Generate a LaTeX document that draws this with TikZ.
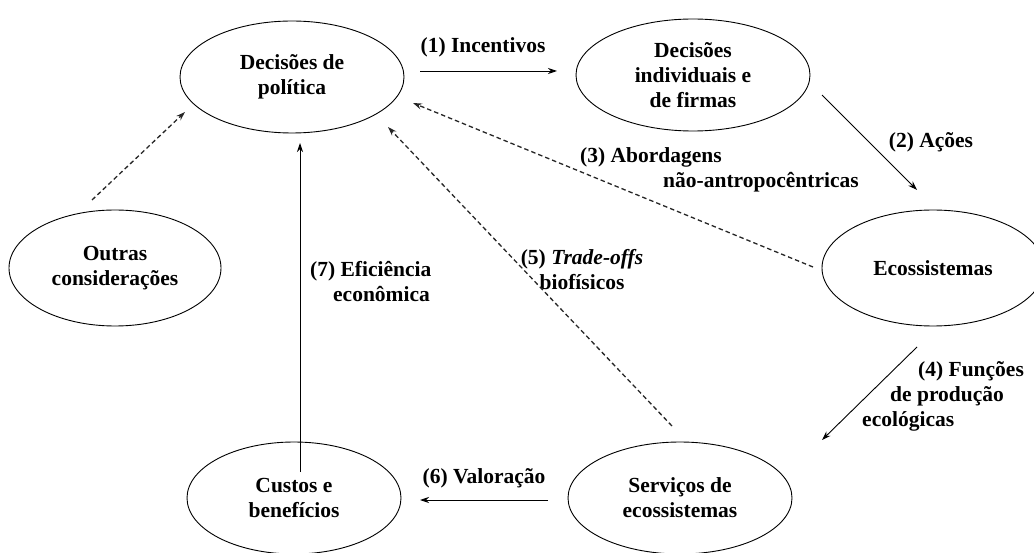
\documentclass[tikz,border=0pt]{standalone}
\usepackage{fontspec}
\setmainfont{Liberation Serif}
\usetikzlibrary{shapes.geometric,arrows.meta}
\begin{document}
\begin{tikzpicture}[x=1pt,y=-1pt,
  every node/.style={font=\fontsize{21.5}{25}\selectfont\bfseries},
  ell/.style={draw,ellipse,line width=0.9pt,inner sep=0pt,align=center},
  lbl/.style={inner sep=0pt},
  arr/.style={line width=0.9pt,-{Stealth[length=9pt,width=6pt]}},
  darr/.style={line width=1.3pt,black!85,dash pattern=on 4.5pt off 3pt,-{Stealth[length=9pt,width=6pt]}}]
\useasboundingbox (0,0) rectangle (1034,553);
% nodes
\node[ell,minimum width=224pt,minimum height=112pt] (pol) at (292,77) {Decisões de\\política};
\node[ell,minimum width=234pt,minimum height=112pt] (ind) at (693,75) {Decisões\\individuais e\\de firmas};
\node[ell,minimum width=222pt,minimum height=116pt] (eco) at (933,268) {Ecossistemas};
\node[ell,minimum width=212pt,minimum height=116pt] (out) at (115,268) {Outras\\considerações};
\node[ell,minimum width=214pt,minimum height=112pt] (cus) at (294,498) {Custos e\\benefícios};
\node[ell,minimum width=224pt,minimum height=112pt] (ser) at (680,498) {Serviços de\\ecossistemas};
% labels
\node[lbl] (l1) at (483,47) {(1) Incentivos};
\node[lbl] (l2) at (931,142) {(2) Ações};
\node[lbl,anchor=west,align=left] (l3) at (580,170) {(3) Abordagens\\\hspace*{83pt}não-antropocêntricas};
\node[lbl,anchor=west,align=left] (l4) at (862,396) {\hspace*{56pt}(4) Funções\\\hspace*{28pt}de produção\\ecológicas};
\node[lbl,align=center] (l5) at (582,270) {(5) \textit{Trade-offs}\\biofísicos};
\node[lbl] (l6) at (484,478) {(6) Valoração};
\node[lbl,anchor=west,align=left] (l7) at (310,282) {(7) Eficiência\\\hspace*{23pt}econômica};
% connectors
\draw[arr] ([shift={(128,-6)}]pol.center) -- ([shift={(-136,-4)}]ind.center);
\draw[arr] ([shift={(129,20)}]ind.center) -- ([shift={(-16,-78)}]eco.center);
\draw[darr] ([shift={(-120,-1)}]eco.center) -- ([shift={(121,26)}]pol.center);
\draw[arr] ([shift={(-16,79)}]eco.center) -- ([shift={(142,-58)}]ser.center);
\draw[darr] ([shift={(-8,-72)}]ser.center) -- ([shift={(96,50)}]pol.center);
\draw[arr] ([shift={(-132,2)}]ser.center) -- ([shift={(126,2)}]cus.center);
\draw[arr] ([shift={(6,-26)}]cus.center) -- ([shift={(8,66)}]pol.center);
\draw[darr] ([shift={(-23,-68)}]out.center) -- ([shift={(-107,35)}]pol.center);
\end{tikzpicture}
\end{document}
